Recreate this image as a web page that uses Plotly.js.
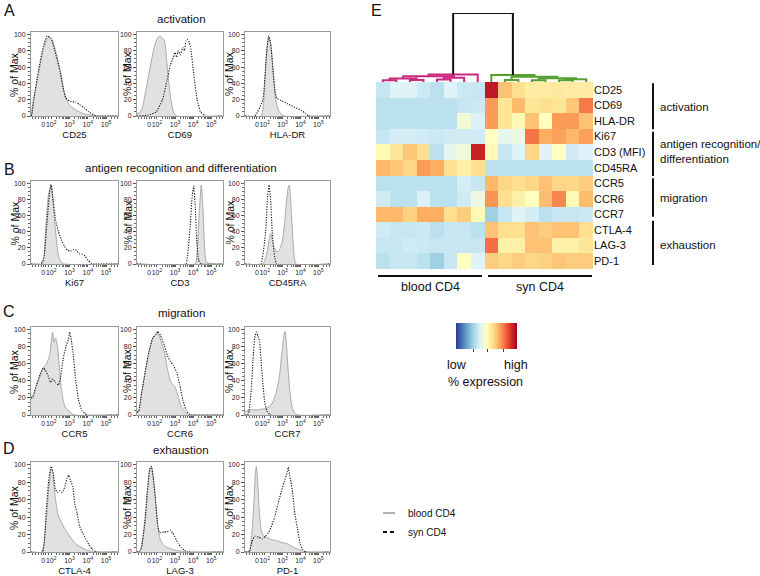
<!DOCTYPE html>
<html><head><meta charset="utf-8">
<script src="https://cdn.plot.ly/plotly-3.0.1.min.js"></script>
<style>html,body{margin:0;padding:0;background:#fff}#chart{width:760px;height:576px}</style>
</head><body><div id="chart"></div>
<script>
// ---------------- DATA ----------------
// histogram markers (panels A-D), in reading order
const histMarkers = ['CD25','CD69','HLA-DR','Ki67','CD3','CD45RA','CCR5','CCR6','CCR7','CTLA-4','LAG-3','PD-1'];
const rowTitles = ['activation','antigen recognition and differentiation','migration','exhaustion'];
const panelLetters = ['A','B','C','D'];
// x positions are in "decade units" of the biexponential axis (2 = 10^2, 3 = 10^3 ...; 1.57 = 0)
const xTickVals = [1.57, 2, 3, 4, 5];
const xTickText = ['0','10<sup>2</sup>','10<sup>3</sup>','10<sup>4</sup>','10<sup>5</sup>'];
const yTickVals = [0,20,40,60,80,100];

const CD25_blood_u   = [0.9,1.0,1.3,1.57,1.78,1.9,2.08,2.3,2.55,2.7,2.9,3.05,3.45,3.75,4.15,4.45,5.65];
const CD25_blood_pct = [0,15,50,82,95,97,92,75,50,30,17,12,6,3,1,0,0];
const CD25_syn_u     = [0.9,0.95,1.05,1.3,1.57,1.78,2.0,2.2,2.48,2.65,2.8,3.05,3.35,3.55,3.8,4.05,4.35,4.55,5.65];
const CD25_syn_pct   = [0,2,20,55,85,98,95,80,55,35,22,18,17,14,10,5,1,0,0];

const CD69_blood_u   = [0.9,1.05,1.18,1.57,1.86,2.05,2.17,2.4,2.57,2.74,2.91,3.09,5.65];
const CD69_blood_pct = [3,4,9,53,85,96,98,93,61,25,5,0,0];
const CD69_syn_u     = [0.9,1.5,1.96,2.31,2.57,2.74,2.91,3.0,3.09,3.17,3.29,3.43,3.52,3.6,3.69,3.78,3.86,4.04,4.22,4.41,4.69,5.65];
const CD69_syn_pct   = [0,1,5,20,45,62,72,78,72,80,75,84,80,92,94,90,85,50,20,5,0,0];

const HLADR_blood_u   = [0.9,1.79,2.0,2.13,2.25,2.38,2.5,2.62,2.75,2.92,3.08,5.65];
const HLADR_blood_pct = [0,0,40,85,97,80,45,20,8,2,0,0];
const HLADR_syn_u     = [0.9,1.46,1.9,2.08,2.22,2.33,2.45,2.58,2.67,2.92,3.28,3.64,4.04,4.3,4.47,5.65];
const HLADR_syn_pct   = [0,0,20,70,98,90,60,30,22,19,15,11,7,3,0,0];

const Ki67_blood_u   = [0.9,1.51,1.69,1.85,2.0,2.08,2.16,2.29,2.4,2.56,2.73,5.65];
const Ki67_blood_pct = [0,0,40,85,99,85,60,30,10,2,0,0];
const Ki67_syn_u     = [0.9,1.4,1.51,1.62,1.77,1.92,2.0,2.08,2.24,2.4,2.56,2.73,2.89,3.06,3.25,3.38,3.53,3.7,3.85,4.0,4.18,4.35,5.65];
const Ki67_syn_pct   = [0,0,2,10,50,90,98,85,55,40,30,22,17,16,18,17,13,12,10,5,1,0,0];

const CD3_blood_u   = [0.9,4.1,4.2,4.33,4.45,4.54,4.64,4.75,5.65];
const CD3_blood_pct = [0,0,10,60,98,70,20,2,0];
const CD3_syn_u     = [0.9,3.6,3.69,3.83,3.95,4.03,4.12,4.2,4.3,4.45,5.65];
const CD3_syn_pct   = [0,0,10,45,85,97,70,30,5,0,0];

const CD45RA_blood_u   = [0.9,1.9,2.08,2.25,2.33,2.5,2.67,2.83,3.0,3.13,3.25,3.32,3.38,3.43,3.5,3.58,3.66,3.75,5.65];
const CD45RA_blood_pct = [0,0,10,30,38,22,15,18,30,55,85,95,98,85,60,30,8,0,0];
const CD45RA_syn_u     = [0.9,1.78,2.05,2.17,2.25,2.33,2.42,2.55,2.67,5.65];
const CD45RA_syn_pct   = [0,0,40,85,98,80,40,10,0,0];

const CCR5_blood_u   = [0.9,1.0,1.2,1.4,1.57,1.75,1.92,2.0,2.08,2.16,2.24,2.35,2.45,2.56,2.68,2.8,2.97,3.1,3.3,5.65];
const CCR5_blood_pct = [18,20,35,45,55,60,70,85,97,85,90,80,55,30,15,8,5,2,0,0];
const CCR5_syn_u     = [0.9,1.0,1.2,1.4,1.57,1.7,1.85,1.97,2.08,2.24,2.4,2.52,2.65,2.8,2.94,3.02,3.1,3.21,3.34,3.49,3.68,3.83,4.0,5.65];
const CCR5_syn_pct   = [20,22,35,48,55,52,45,38,42,38,35,45,65,80,88,97,88,70,40,18,5,2,0,0];

const CCR6_blood_u   = [0.9,1.0,1.15,1.35,1.57,1.77,1.97,2.05,2.2,2.4,2.57,2.74,2.86,3.0,3.17,3.34,3.52,3.69,3.85,5.65];
const CCR6_blood_pct = [3,5,25,50,75,90,95,97,88,75,55,40,36,33,22,10,4,1,0,0];
const CCR6_syn_u     = [0.9,1.0,1.15,1.35,1.57,1.77,1.97,2.05,2.2,2.4,2.57,2.74,2.91,3.09,3.26,3.43,3.6,3.78,3.95,5.65];
const CCR6_syn_pct   = [3,5,25,50,75,90,95,98,93,82,70,63,58,50,35,18,6,1,0,0];

const CCR7_blood_u   = [0.9,1.2,1.6,2.1,2.28,2.45,2.63,2.82,2.95,3.06,3.13,3.21,3.3,3.42,3.55,3.68,3.85,5.65];
const CCR7_blood_pct = [4,6,6,8,10,15,25,45,70,90,98,85,55,25,8,2,0,0];
const CCR7_syn_u     = [0.9,1.05,1.13,1.25,1.35,1.44,1.53,1.63,1.72,1.81,1.91,2.0,2.12,2.3,5.65];
const CCR7_syn_pct   = [0,0,5,30,65,90,97,92,85,60,35,15,5,0,0];

const CTLA4_blood_u   = [0.9,1.48,1.74,1.88,2.0,2.09,2.18,2.35,2.53,2.79,3.05,3.32,3.59,3.86,4.13,4.4,5.65];
const CTLA4_blood_pct = [0,0,40,75,95,90,70,45,35,25,17,10,6,3,1,0,0];
const CTLA4_syn_u     = [0.9,1.53,1.74,1.88,2.0,2.12,2.23,2.35,2.47,2.61,2.75,2.88,2.96,3.05,3.18,3.29,3.41,3.55,3.71,3.89,4.07,4.25,4.48,5.65];
const CTLA4_syn_pct   = [0,0,50,85,98,90,72,68,70,68,75,85,88,82,75,55,45,30,22,15,8,3,0,0];

const LAG3_blood_u   = [0.9,1.05,1.14,1.33,1.49,1.61,1.69,1.8,1.92,2.05,2.22,2.48,2.74,3.0,3.34,3.69,5.65];
const LAG3_blood_pct = [0,1,5,30,70,95,98,85,60,30,12,6,4,2,1,0,0];
const LAG3_syn_u     = [0.9,1.05,1.14,1.33,1.49,1.61,1.69,1.8,1.92,2.05,2.15,2.4,2.57,2.74,2.86,3.0,3.17,3.34,3.52,3.69,5.65];
const LAG3_syn_pct   = [0,1,5,35,75,95,98,85,60,30,22,23,23,25,22,17,10,5,2,0,0];

const PD1_blood_u   = [0.9,1.1,1.2,1.38,1.48,1.53,1.61,1.7,1.81,1.94,2.12,2.39,2.65,2.91,3.18,3.47,3.75,4.04,4.32,5.65];
const PD1_blood_pct = [0,1,5,50,90,98,80,45,25,18,17,14,13,11,10,7,4,2,0,0];
const PD1_syn_u     = [0.9,1.14,1.29,1.44,1.66,1.85,2.04,2.21,2.39,2.56,2.74,2.91,3.09,3.24,3.32,3.39,3.47,3.56,3.68,3.84,3.98,4.11,4.3,5.65];
const PD1_syn_pct   = [0,0,12,18,17,15,18,22,30,40,55,68,80,90,97,88,80,68,45,25,10,3,0,0];

// heatmap (panel E)
const heatMarkers = ['CD25','CD69','HLA-DR','Ki67','CD3 (MFI)','CD45RA','CCR5','CCR6','CCR7','CTLA-4','LAG-3','PD-1'];
const samples = ['blood 1','blood 2','blood 3','blood 4','blood 5','blood 6','blood 7','blood 8',
                 'syn 1','syn 2','syn 3','syn 4','syn 5','syn 6','syn 7','syn 8'];
const row_CD25   = [0.35,0.40,0.40,0.36,0.33,0.40,0.36,0.35, 0.95,0.66,0.60,0.56,0.56,0.57,0.56,0.56];
const row_CD69   = [0.33,0.33,0.33,0.33,0.33,0.33,0.35,0.36, 0.73,0.58,0.68,0.58,0.60,0.58,0.65,0.78];
const row_HLADR  = [0.33,0.33,0.33,0.33,0.33,0.33,0.46,0.39, 0.73,0.58,0.52,0.66,0.50,0.73,0.73,0.66];
const row_Ki67   = [0.35,0.38,0.38,0.37,0.36,0.37,0.37,0.37, 0.50,0.42,0.44,0.79,0.70,0.72,0.68,0.72];
const row_CD3    = [0.52,0.58,0.65,0.60,0.33,0.42,0.46,0.93, 0.52,0.35,0.40,0.62,0.40,0.50,0.37,0.40];
const row_CD45RA = [0.68,0.65,0.62,0.73,0.70,0.60,0.55,0.60, 0.33,0.33,0.33,0.33,0.33,0.33,0.33,0.33];
const row_CCR5   = [0.33,0.33,0.33,0.33,0.33,0.33,0.38,0.35, 0.68,0.62,0.60,0.62,0.66,0.62,0.62,0.64];
const row_CCR6   = [0.37,0.33,0.33,0.39,0.33,0.33,0.37,0.44, 0.74,0.60,0.55,0.50,0.67,0.76,0.52,0.67];
const row_CCR7   = [0.68,0.68,0.63,0.70,0.70,0.60,0.64,0.52, 0.28,0.35,0.40,0.38,0.33,0.35,0.35,0.36];
const row_CTLA4  = [0.37,0.35,0.35,0.36,0.33,0.35,0.35,0.33, 0.66,0.60,0.60,0.66,0.64,0.66,0.66,0.60];
const row_LAG3   = [0.35,0.35,0.37,0.36,0.35,0.35,0.35,0.35, 0.80,0.55,0.55,0.66,0.66,0.55,0.55,0.58];
const row_PD1    = [0.33,0.35,0.35,0.33,0.28,0.35,0.50,0.40, 0.64,0.62,0.64,0.62,0.63,0.65,0.64,0.64];

// dendrogram linkage (leaf ids 0-15, new nodes numbered from 16)
const linkA = [0,2,16,4,19,18,21, 9,11,13,25,24,23,8, 22];
const linkB = [1,3,17,5,6,20,7, 10,12,14,15,26,27,28, 29];
const linkH = [0.25,0.3,0.5,0.35,0.6,0.85,1.1, 0.3,0.25,0.25,0.4,0.55,0.75,1.0, 10];
const linkGroup = ['pink','pink','pink','pink','pink','pink','pink','green','green','green','green','green','green','green','root'];

const groupLabels = ['activation','antigen recognition/<br>differentiation','migration','exhaustion'];

// ---------------- LAYOUT HELPERS ----------------
const W = 760, H = 576;
const FONT = 'Liberation Sans, Arial, Helvetica, sans-serif';
const px = x => x / W;
const py = y => 1 - y / H;

const histBlood = [
  [CD25_blood_u,CD25_blood_pct],[CD69_blood_u,CD69_blood_pct],[HLADR_blood_u,HLADR_blood_pct],
  [Ki67_blood_u,Ki67_blood_pct],[CD3_blood_u,CD3_blood_pct],[CD45RA_blood_u,CD45RA_blood_pct],
  [CCR5_blood_u,CCR5_blood_pct],[CCR6_blood_u,CCR6_blood_pct],[CCR7_blood_u,CCR7_blood_pct],
  [CTLA4_blood_u,CTLA4_blood_pct],[LAG3_blood_u,LAG3_blood_pct],[PD1_blood_u,PD1_blood_pct]];
const histSyn = [
  [CD25_syn_u,CD25_syn_pct],[CD69_syn_u,CD69_syn_pct],[HLADR_syn_u,HLADR_syn_pct],
  [Ki67_syn_u,Ki67_syn_pct],[CD3_syn_u,CD3_syn_pct],[CD45RA_syn_u,CD45RA_syn_pct],
  [CCR5_syn_u,CCR5_syn_pct],[CCR6_syn_u,CCR6_syn_pct],[CCR7_syn_u,CCR7_syn_pct],
  [CTLA4_syn_u,CTLA4_syn_pct],[LAG3_syn_u,LAG3_syn_pct],[PD1_syn_u,PD1_syn_pct]];

const colPx = [[31,118],[137,223],[245,330]];
const rowPx = [[32,116],[181,264],[327,415],[462,552]];
const yTitleX = [14,127,229];

const minorX = [1.0,1.15,1.3,1.45,1.7,1.85];
[2,3,4].forEach(k => { for (let m = 2; m <= 9; m++) minorX.push(k + Math.log10(m)); });
[2,3,4].forEach(m => minorX.push(5 + Math.log10(m)));
const minorY = [];
for (let v = 5; v < 100; v += 5) minorY.push(v);

const data = [];
const layout = {
  width: W, height: H, margin: {l:0,r:0,t:0,b:0},
  paper_bgcolor: '#fff', plot_bgcolor: '#fff',
  showlegend: false,
  font: {family: FONT, color: '#111'},
  annotations: [], shapes: []
};
function ann(text, x, y, size, extra) {
  return Object.assign({text, x: px(x), y: py(y), xref:'paper', yref:'paper', showarrow:false,
    xanchor:'center', yanchor:'middle', font:{family: FONT, size, color:'#111'}}, extra || {});
}
function seg(x0, y0, x1, y1, color, width, dash) {
  return {type:'line', xref:'paper', yref:'paper', x0:px(x0), y0:py(y0), x1:px(x1), y1:py(y1),
    line:{color, width, dash: dash || 'solid'}};
}

// ---------------- HISTOGRAMS ----------------
histMarkers.forEach((name, i) => {
  const r = Math.floor(i / 3), c = i % 3, n = i + 1;
  const xa = 'x' + n, ya = 'y' + n;
  data.push({type:'scatter', mode:'lines', x: histBlood[i][0], y: histBlood[i][1], xaxis: xa, yaxis: ya,
    fill:'tozeroy', fillcolor:'#e1e1e1', line:{color:'#a0a0a0', width:0.9, shape:'spline', smoothing:0.6},
    name:'blood CD4', hoverinfo:'skip'});
  data.push({type:'scatter', mode:'lines', x: histSyn[i][0], y: histSyn[i][1], xaxis: xa, yaxis: ya,
    line:{color:'#111', width:1.1, dash:'1.2px,1.4px', shape:'spline', smoothing:0.4},
    name:'syn CD4', hoverinfo:'skip'});
  layout['xaxis' + (n === 1 ? '' : n)] = {
    domain:[px(colPx[c][0]), px(colPx[c][1])], range:[0.9, 5.65], anchor: ya,
    tickmode:'array', tickvals: xTickVals, ticktext: xTickText, tickangle: 0,
    ticks:'outside', ticklen:2, tickwidth:0.8, tickcolor:'#333',
    tickfont:{size:7, color:'#222'}, showline:true, linecolor:'#9a9a9a', linewidth:1, mirror:true,
    showgrid:false, zeroline:false, fixedrange:true,
    minor:{tickmode:'array', tickvals: minorX, ticks:'outside', ticklen:1.6, tickcolor:'#444', showgrid:false},
    title:{text: name, font:{size:9.5, color:'#111'}, standoff:3}
  };
  layout['yaxis' + (n === 1 ? '' : n)] = {
    domain:[py(rowPx[r][1]), py(rowPx[r][0])], range:[0, 103], anchor: xa,
    tickmode:'array', tickvals: yTickVals, ticks:'outside', ticklen:3, tickwidth:0.8, tickcolor:'#333',
    tickfont:{size:7, color:'#222'}, showline:true, linecolor:'#9a9a9a', linewidth:1, mirror:true,
    showgrid:false, zeroline:false, fixedrange:true,
    minor:{tickmode:'array', tickvals: minorY, ticks:'outside', ticklen:1.6, tickcolor:'#444', showgrid:false}
  };
  layout.annotations.push(ann('% of Max', yTitleX[c], (rowPx[r][0] + rowPx[r][1]) / 2, 10.5, {textangle:-90}));
});

// row titles and letters
const rowTitleY = [19, 168, 313, 450];
const letterY = [10, 169, 311, 448];
rowTitles.forEach((t, r) => {
  layout.annotations.push(ann(t, 181, rowTitleY[r], 11.5));
  layout.annotations.push(ann(panelLetters[r], 9, letterY[r], 16));
});
layout.annotations.push(ann('E', 376, 11, 16));

// ---------------- HEATMAP ----------------
const zMatrix = [row_CD25,row_CD69,row_HLADR,row_Ki67,row_CD3,row_CD45RA,row_CCR5,row_CCR6,row_CCR7,row_CTLA4,row_LAG3,row_PD1];
const rdylbu = [[0,'#313695'],[0.1,'#4575b4'],[0.2,'#74add1'],[0.3,'#abd9e9'],[0.4,'#e0f3f8'],[0.5,'#ffffbf'],
                [0.6,'#fee090'],[0.7,'#fdae61'],[0.8,'#f46d43'],[0.9,'#d73027'],[1,'#a50026']];
data.push({type:'heatmap', z: zMatrix, x: samples, y: heatMarkers, xaxis:'x13', yaxis:'y13',
  colorscale: rdylbu, zmin:0, zmax:1, xgap:0, ygap:0, hoverinfo:'skip',
  colorbar:{orientation:'h', x: px(486), xanchor:'center', xref:'paper', y: py(352), yanchor:'bottom', yref:'paper',
    len:61, lenmode:'pixels', thickness:26, thicknessmode:'pixels', outlinewidth:0,
    ticks:'outside', ticklen:3, tickwidth:1, tickcolor:'#444', tickmode:'array', tickvals:[0.29,0.53,0.79],
    showticklabels:false, xpad:0, ypad:0}});
const hmX = [376, 593], hmY = [82, 269];
layout.xaxis13 = {domain:[px(hmX[0]), px(hmX[1])], anchor:'y13', showticklabels:false, ticks:'',
  showline:false, showgrid:false, zeroline:false, fixedrange:true};
layout.yaxis13 = {domain:[py(hmY[1]), py(hmY[0])], anchor:'x13', side:'right', autorange:'reversed',
  ticks:'', showline:false, showgrid:false, zeroline:false, fixedrange:true,
  tickfont:{size:11, color:'#111'}};

// ---------------- DENDROGRAM ----------------
const nodePos = samples.map((s, k) => k);
const nodeH = samples.map(() => 0);
const dendro = {pink:{x:[],y:[]}, green:{x:[],y:[]}, root:{x:[],y:[]}};
linkA.forEach((a, k) => {
  const b = linkB[k], h = linkH[k], g = dendro[linkGroup[k]];
  g.x.push(nodePos[a], nodePos[a], nodePos[b], nodePos[b], null);
  g.y.push(nodeH[a], h, h, nodeH[b], null);
  nodePos.push((nodePos[a] + nodePos[b]) / 2);
  nodeH.push(h);
});
const dendroColor = {pink:'#c8287f', green:'#57a02f', root:'#111'};
Object.keys(dendro).forEach(key => {
  data.push({type:'scatter', mode:'lines', x: dendro[key].x, y: dendro[key].y, xaxis:'x14', yaxis:'y14',
    line:{color: dendroColor[key], width:2}, hoverinfo:'skip', connectgaps:false});
});
layout.xaxis14 = {domain:[px(hmX[0]), px(hmX[1])], anchor:'y14', range:[-0.5, 15.5], visible:false, fixedrange:true};
layout.yaxis14 = {domain:[py(82), py(13)], anchor:'x14', range:[0, 10], visible:false, fixedrange:true};

// group brackets and labels
const groupSpan = [[83.3,129.3],[131.7,176],[178.3,216.7],[220.7,265]];
const groupLabelY = [106.7, 152, 198.3, 245];
groupSpan.forEach((s, k) => {
  layout.shapes.push(seg(653, s[0], 653, s[1], '#111', 2));
  layout.annotations.push(ann(groupLabels[k], 658, groupLabelY[k], 11.5, {xanchor:'left', align:'left'}));
});
// sample group bars under heatmap
layout.shapes.push(seg(378, 276, 482, 276, '#111', 2));
layout.shapes.push(seg(488, 276, 592, 276, '#111', 2));
layout.annotations.push(ann('blood CD4', 430, 287, 12.5));
layout.annotations.push(ann('syn CD4', 540, 287, 12.5));
// colorbar labels
layout.annotations.push(ann('low', 457, 365, 12.5));
layout.annotations.push(ann('high', 516, 365, 12.5));
layout.annotations.push(ann('% expression', 485, 382, 12.5));

// legend (histograms)
layout.shapes.push(seg(383, 513, 395, 513, '#999', 1.5));
layout.shapes.push(seg(383, 532, 395, 532, '#111', 2, '4px,3px'));
layout.annotations.push(ann('blood CD4', 406, 513, 10, {xanchor:'left'}));
layout.annotations.push(ann('syn CD4', 406, 532, 10, {xanchor:'left'}));

Plotly.newPlot('chart', data, layout, {staticPlot:true, displayModeBar:false});
</script></body></html>
